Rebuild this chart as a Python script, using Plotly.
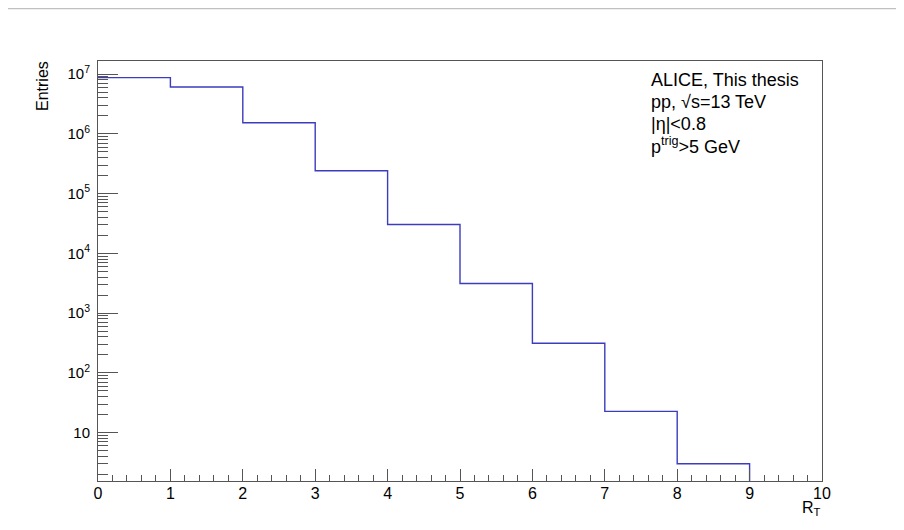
import plotly.graph_objects as go

# ---- data ----
bin_edges = [0, 1, 2, 3, 4, 5, 6, 7, 8, 9]
counts = [8.7e6, 6.05e6, 1.53e6, 2.4e5, 3.03e4, 3.12e3, 312, 22.6, 3.0]
y_tick_vals = [10, 1e2, 1e3, 1e4, 1e5, 1e6, 1e7]
y_tick_text = ["10", "10<sup>2</sup>", "10<sup>3</sup>", "10<sup>4</sup>",
               "10<sup>5</sup>", "10<sup>6</sup>", "10<sup>7</sup>"]
x_tick_vals = list(range(0, 11))
info_lines = ["ALICE, This thesis", "pp, \u221as=13 TeV", "|\u03b7|<0.8",
              "p<sup>trig</sup>>5 GeV"]

# page geometry (pixels); the figure sits at an 8px body offset
OFF = 8
PL, PR, PT, PB = 98, 822, 61, 481   # plot area in page pixels
W, H = 904 - OFF, 530 - OFF
pw, ph = PR - PL, PB - PT

def px_x(x):
    return (x - PL) / pw

def px_y(y):
    return (PB - y) / ph

ylog_min, ylog_max = 0.189, 7.218
floor_val = 1.0

# histogram outline (step)
xs = bin_edges + [bin_edges[-1]]
ys = counts + [counts[-1], floor_val]

fig = go.Figure()
fig.add_trace(go.Scatter(
    x=xs, y=ys, mode="lines", line=dict(color="#3c3cbe", width=1.4, shape="hv"),
    showlegend=False, hoverinfo="skip"))

minor_y = []
for n in range(0, 8):
    for k in range(2, 10):
        v = k * 10 ** n
        if 10 ** ylog_min <= v <= 10 ** ylog_max:
            minor_y.append(v)

axis_col = "#555555"
font_fam = "Liberation Sans, Arial, sans-serif"

fig.update_layout(
    width=W, height=H,
    margin=dict(l=PL - OFF, r=904 - PR, t=PT - OFF, b=530 - PB),
    plot_bgcolor="white", paper_bgcolor="white",
    font=dict(family=font_fam, color="black"),
    xaxis=dict(
        range=[0, 10], tickmode="array", tickvals=x_tick_vals,
        ticks="inside", ticklen=12, tickwidth=1, tickcolor=axis_col,
        showline=True, linecolor=axis_col, linewidth=1, mirror=True,
        showgrid=False, zeroline=False, tickfont=dict(size=16),
        ticklabelstandoff=-2,
        minor=dict(dtick=0.2, ticks="inside", ticklen=6, tickwidth=1,
                   tickcolor=axis_col, showgrid=False),
    ),
    yaxis=dict(
        type="log", range=[ylog_min, ylog_max], tickmode="array",
        tickvals=y_tick_vals, ticktext=y_tick_text,
        ticks="inside", ticklen=20, tickwidth=1, tickcolor=axis_col,
        showline=True, linecolor=axis_col, linewidth=1, mirror=True,
        showgrid=False, zeroline=False, tickfont=dict(size=15),
        ticklabelstandoff=4,
        minor=dict(tickmode="array", tickvals=minor_y, ticks="inside",
                   ticklen=10, tickwidth=1, tickcolor=axis_col, showgrid=False),
    ),
    shapes=[dict(type="line", xref="paper", yref="paper",
                 x0=px_x(4), x1=px_x(910), y0=px_y(8.5), y1=px_y(8.5),
                 line=dict(color="#c0c0c0", width=1.5))],
)

# axis titles
fig.add_annotation(text="Entries", xref="paper", yref="paper",
                   x=px_x(42), y=px_y(86), textangle=-90, showarrow=False,
                   xanchor="center", yanchor="middle", font=dict(size=16))
fig.add_annotation(text="R<sub>T</sub>", xref="paper", yref="paper",
                   x=px_x(823), y=px_y(508), showarrow=False,
                   xanchor="right", yanchor="middle", font=dict(size=16))

# info text
line_centers = [80, 102, 124, 146]
for txt, yc in zip(info_lines, line_centers):
    fig.add_annotation(text=txt, xref="paper", yref="paper",
                       x=px_x(649), y=px_y(yc), showarrow=False,
                       xanchor="left", yanchor="middle", align="left",
                       font=dict(size=18))

fig.write_html("out.html")
